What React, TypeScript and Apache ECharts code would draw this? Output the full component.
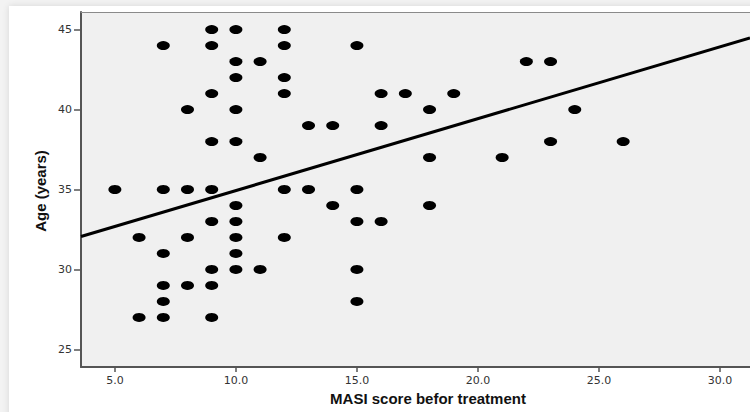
import React, { useEffect, useRef } from "react";
import * as echarts from "echarts";

const masiScores: number[] = [
  9, 10, 7, 9, 10, 10, 9, 8, 10, 9, 10, 5, 7, 8, 9, 10, 9, 10, 6, 8, 10, 7, 10, 9, 10, 7, 8, 9, 7, 6, 7, 9,
  12, 12, 15, 11, 12, 12, 16, 17, 19, 18, 13, 14, 16, 11, 18, 21, 12, 13, 15, 14, 18, 15, 16, 12, 11, 15, 15,
  22, 23, 24, 23, 26,
];
const ages: number[] = [
  45, 45, 44, 44, 43, 42, 41, 40, 40, 38, 38, 35, 35, 35, 35, 34, 33, 33, 32, 32, 32, 31, 31, 30, 30, 29, 29, 29, 28, 27, 27, 27,
  45, 44, 44, 43, 42, 41, 41, 41, 41, 40, 39, 39, 39, 37, 37, 37, 35, 35, 35, 34, 34, 33, 33, 32, 30, 30, 28,
  43, 43, 40, 38, 38,
];
const fitLineX: number[] = [3.6, 31.24];
const fitLineY: number[] = [32.06, 44.48];
const xTicks: number[] = [5, 10, 15, 20, 25, 30];
const yTicks: number[] = [25, 30, 35, 40, 45];
const xTitle = "MASI score befor treatment";
const yTitle = "Age (years)";

export default function App() {
  const ref = useRef<HTMLDivElement>(null);
  useEffect(() => {
    if (!ref.current) return;
    const chart = echarts.init(ref.current, null, { renderer: "svg" });
    const points = masiScores.map((x, i) => [x, ages[i]]);
    const line = fitLineX.map((x, i) => [x, fitLineY[i]]);
    chart.setOption({
      animation: false,
      grid: {
        left: 81,
        top: 12,
        right: 0,
        height: 355,
        show: true,
        backgroundColor: "#f0f0f0",
        borderWidth: 0,
      },
      xAxis: [
        {
          type: "value",
          min: 3.6,
          max: 31.24,
          splitLine: { show: false },
          axisLine: { show: true, onZero: false, lineStyle: { color: "#555", width: 2 } },
          axisTick: { show: true, length: 5, customValues: xTicks, lineStyle: { color: "#555", width: 1.5 } },
          axisLabel: {
            customValues: xTicks,
            formatter: (v: number) => v.toFixed(1),
            color: "#333",
            fontFamily: "DejaVu Sans",
            fontSize: 11,
            margin: 8,
          },
        },
        {
          type: "value",
          position: "top",
          min: 3.6,
          max: 31.24,
          splitLine: { show: false },
          axisLine: { show: true, onZero: false, lineStyle: { color: "#8a8a8a", width: 1 } },
          axisTick: { show: false },
          axisLabel: { show: false },
        },
      ],
      yAxis: {
        type: "value",
        min: 23.9,
        max: 46.1,
        splitLine: { show: false },
        axisLine: { show: true, onZero: false, lineStyle: { color: "#555", width: 2 } },
        axisTick: { show: true, length: 7, customValues: yTicks, lineStyle: { color: "#555", width: 1.5 } },
        axisLabel: {
          customValues: yTicks,
          color: "#333",
          fontFamily: "DejaVu Sans",
          fontSize: 11,
          margin: 9,
        },
      },
      graphic: [
        {
          type: "text",
          x: 428,
          y: 398,
          style: {
            text: xTitle,
            fontFamily: "Liberation Sans, Arial, sans-serif",
            fontWeight: "bold",
            fontSize: 15,
            fill: "#111",
            textAlign: "center",
            textVerticalAlign: "middle",
          },
        },
        {
          type: "text",
          x: 40,
          y: 191,
          rotation: Math.PI / 2,
          style: {
            text: yTitle,
            fontFamily: "Liberation Sans Narrow, Arial Narrow, Liberation Sans, sans-serif",
            fontWeight: "bold",
            fontSize: 15,
            fill: "#111",
            textAlign: "center",
            textVerticalAlign: "middle",
          },
        },
      ],
      series: [
        {
          type: "scatter",
          data: points,
          symbol: "circle",
          symbolSize: [13, 9],
          itemStyle: { color: "#000", opacity: 1 },
          silent: true,
        },
        {
          type: "line",
          data: line,
          showSymbol: false,
          symbol: "none",
          lineStyle: { color: "#000", width: 3 },
          silent: true,
          z: 3,
        },
      ],
    });
    return () => chart.dispose();
  }, []);
  return (
    <div style={{ position: "fixed", left: 0, top: 0, width: 750, height: 412, background: "#f3f3f3", overflow: "hidden" }}>
      <div
        style={{
          position: "absolute",
          left: 9,
          top: 6,
          width: 780,
          height: 440,
          background: "#fff",
          boxShadow: "0 0 7px rgba(0,0,0,0.12)",
        }}
      />
      <div ref={ref} style={{ position: "absolute", left: 0, top: 0, width: 750, height: 412 }} />
    </div>
  );
}
